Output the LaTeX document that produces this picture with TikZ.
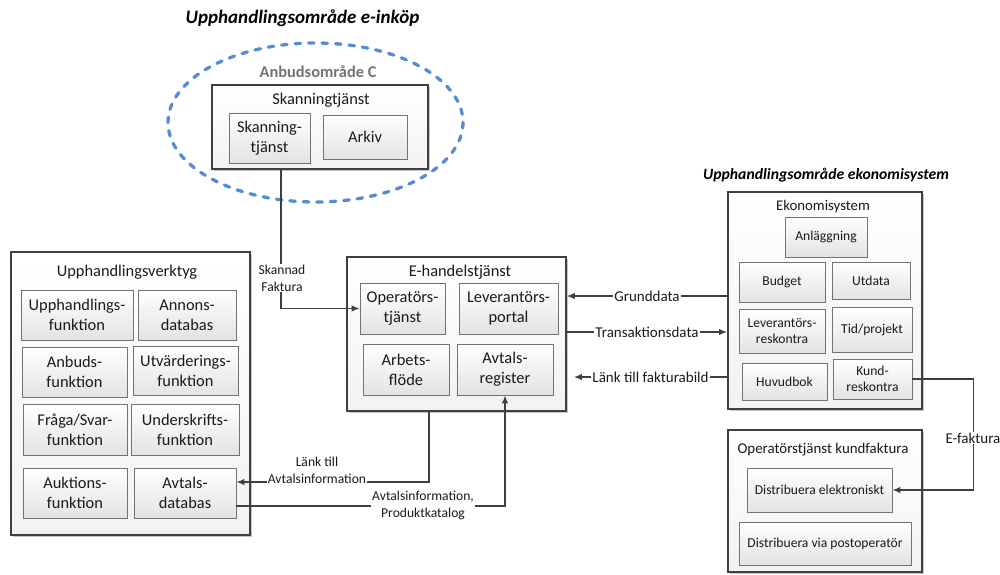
\documentclass[tikz,border=0pt]{standalone}
\usepackage{fontspec}
\setmainfont{Carlito}
\usetikzlibrary{shadows,arrows.meta,calc}
\definecolor{linec}{HTML}{404040}
\definecolor{ellc}{HTML}{548DD4}
\definecolor{txtc}{HTML}{1A1A1A}
\tikzset{
  outerbox/.style={draw=linec, line width=1.8pt, top color=white, bottom color=black!5,
    drop shadow={shadow xshift=1.6pt, shadow yshift=-1.6pt, fill=black!40, opacity=0.55}, inner sep=0pt},
  innerbox/.style={draw=black!55, line width=0.8pt, top color=white, bottom color=black!11,
    drop shadow={shadow xshift=1.1pt, shadow yshift=-1.1pt, fill=black!35, opacity=0.55},
    align=center, text=txtc, inner sep=0pt, font=\fontsize{16.4}{20}\selectfont},
  smallbox/.style={innerbox, font=\fontsize{13.6}{16.6}\selectfont},
  boxtitle/.style={text=txtc, inner sep=0pt, font=\fontsize{16.4}{20}\selectfont},
  smalltitle/.style={text=txtc, inner sep=0pt, font=\fontsize{14.9}{18}\selectfont},
  areatitle/.style={inner sep=0pt, font=\fontsize{19}{22}\selectfont\bfseries\itshape},
  conn/.style={draw=linec, line width=1.3pt, -{Latex[length=8pt,width=6.5pt]}},
  connlab/.style={fill=white, inner sep=1pt, align=center, text=txtc, font=\fontsize{13.6}{16.8}\selectfont},
  connlabb/.style={fill=white, inner sep=1pt, align=center, text=txtc, font=\fontsize{15}{18}\selectfont},
}
\begin{document}
\begin{tikzpicture}[x=1pt,y=-1pt]
\useasboundingbox (0,0) rectangle (1000,574);

% area titles
\node[areatitle] (t1) at (302.5,18) {Upphandlingsområde e-inköp};
\node[areatitle, font=\fontsize{15.7}{18}\selectfont\bfseries\itshape] (t2) at (826,175) {Upphandlingsområde ekonomisystem};

% ellipse
\draw[ellc, line width=3.3pt, dash pattern=on 5.5pt off 8pt, line cap=round] (315.5,122.5) ellipse [x radius=147.5, y radius=79.5];
\node[inner sep=0pt, text=black!55, font=\fontsize{16.4}{20}\selectfont\bfseries] (anb) at (318,72) {Anbudsområde C};

% Skanningtjanst
\node[outerbox, minimum width=216, minimum height=84] (sk) at (320,127) {};
\node[boxtitle] (skt) at (321,100) {Skanningtjänst};
\node[innerbox, minimum width=81, minimum height=50] (sk1) at (269.5,138) {Skanning-\\tjänst};
\node[innerbox, minimum width=84, minimum height=44] (sk2) at (365,137) {Arkiv};

% Upphandlingsverktyg
\node[outerbox, minimum width=239, minimum height=283] (uv) at (130.5,393.5) {};
\node[boxtitle] (uvt) at (127,272) {Upphandlingsverktyg};
\node[innerbox, minimum width=112, minimum height=50] (u1) at (77,315) {Upphandlings-\\funktion};
\node[innerbox, minimum width=98, minimum height=50] (u2) at (187,315) {Annons-\\databas};
\node[innerbox, minimum width=105, minimum height=50] (u3) at (74.5,372) {Anbuds-\\funktion};
\node[innerbox, minimum width=105, minimum height=49] (u4) at (185.5,370.5) {Utvärderings-\\funktion};
\node[innerbox, minimum width=104, minimum height=51] (u5) at (75,429.5) {Fråga/Svar-\\funktion};
\node[innerbox, minimum width=108, minimum height=51] (u6) at (185,429.5) {Underskrifts-\\funktion};
\node[innerbox, minimum width=104, minimum height=50] (u7) at (75,493) {Auktions-\\funktion};
\node[innerbox, minimum width=102, minimum height=50] (u8) at (185,493) {Avtals-\\databas};

% E-handelstjanst
\node[outerbox, minimum width=219, minimum height=154] (eh) at (456.5,334) {};
\node[boxtitle] (eht) at (460,272) {E-handelstjänst};
\node[innerbox, minimum width=85, minimum height=51] (e1) at (402.5,308.5) {Operatörs-\\tjänst};
\node[innerbox, minimum width=99, minimum height=51] (e2) at (508.5,308.5) {Leverantörs-\\portal};
\node[innerbox, minimum width=86, minimum height=51] (e3) at (406,369.5) {Arbets-\\flöde};
\node[innerbox, minimum width=96, minimum height=51] (e4) at (505,369.5) {Avtals-\\register};
\coordinate (ehr) at ([xshift=7pt]eh.east);

% Ekonomisystem
\node[outerbox, minimum width=194, minimum height=217] (ek) at (825,300.5) {};
\node[smalltitle, font=\fontsize{14.8}{18}\selectfont] (ekt) at (823,207) {Ekonomisystem};
\node[smallbox, minimum width=82, minimum height=40] (k1) at (826,237) {Anläggning};
\node[smallbox, minimum width=86, minimum height=40] (k2) at (782,282) {Budget};
\node[smallbox, minimum width=78, minimum height=37] (k3) at (871,280.5) {Utdata};
\node[smallbox, minimum width=86, minimum height=44] (k4) at (782,331) {Leverantörs-\\reskontra};
\node[smallbox, minimum width=80, minimum height=45] (k5) at (872,329.5) {Tid/projekt};
\node[smallbox, minimum width=85, minimum height=37] (k6) at (784.5,381.5) {Huvudbok};
\node[smallbox, minimum width=79, minimum height=40] (k7) at (872.5,379) {Kund-\\reskontra};

% Operatorstjanst kundfaktura
\node[outerbox, minimum width=194, minimum height=142] (ok) at (825,501) {};
\node[smalltitle] (okt) at (823,450) {Operatörstjänst kundfaktura};
\node[smallbox, minimum width=145, minimum height=44] (o1) at (819.5,490) {Distribuera elektroniskt};
\node[smallbox, minimum width=172, minimum height=43] (o2) at (825,543.5) {Distribuera via postoperatör};

% connectors
\draw[conn] ([xshift=70pt]sk.south west) |- (e1.west);
\node[connlab] (lsk) at (282,278) {Skannad\\Faktura};

\draw[conn] ([xshift=83pt]eh.south west) |- ([yshift=11pt]u8.east);
\node[connlab] (llk) at (317,470) {Länk till\\Avtalsinformation};

\draw[conn] ([yshift=-13pt]u8.east) -| (e4.south);
\node[connlab] (lav) at (423,505.5) {Avtalsinformation,\\Produktkatalog};

\draw[conn] ([yshift=4.5pt]ek.west) -- ([yshift=4.5pt]ek.west -| eh.east)
  node[connlabb, midway] (lgr) {Grunddata};
\draw[conn] ([yshift=2pt]eh.east) -- ([yshift=2pt]eh.east -| ek.west)
  node[connlabb, midway] (ltr) {Transaktionsdata};
\draw[conn] ([yshift=-76.5pt]ek.west) -- ([yshift=-76.5pt]ek.west -| ehr)
  node[connlabb, midway] (lfb) {Länk till fakturabild};

\draw[conn] (k7.east) -- ([xshift=61pt]k7.east) |- (o1.east);
\node[connlabb] (lef) at (973,438) {E-faktura};
\end{tikzpicture}
\end{document}
